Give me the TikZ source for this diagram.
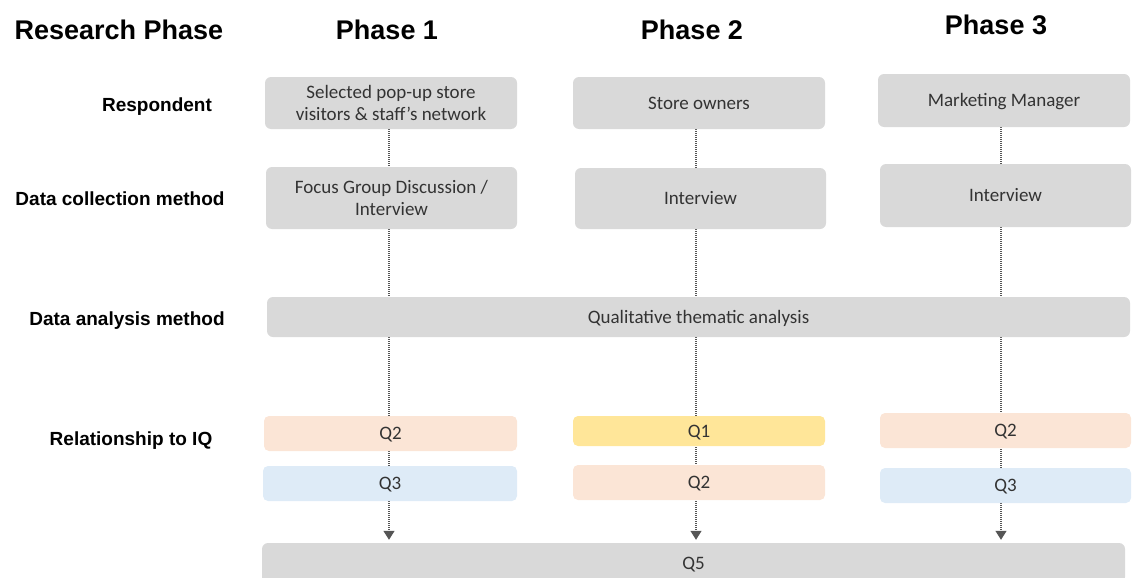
\documentclass[tikz,border=0pt]{standalone}
\usepackage{fontspec}
\setmainfont{Liberation Sans}
\newfontfamily\boxfont{Carlito}
\usetikzlibrary{arrows.meta,backgrounds}
\definecolor{boxgray}{HTML}{D9D9D9}
\definecolor{qorange}{HTML}{FBE5D6}
\definecolor{qblue}{HTML}{DEEBF7}
\definecolor{qyellow}{HTML}{FFE699}
\definecolor{boxtext}{HTML}{333333}
\definecolor{linegray}{HTML}{555555}
\tikzset{
  hdr/.style={font=\fontsize{27}{32}\selectfont\bfseries, anchor=base, inner sep=0pt, text=black},
  rowlabel/.style={font=\fontsize{19}{22}\selectfont\bfseries, anchor=base, inner sep=0pt, text=black},
  box/.style={rectangle, rounded corners=6pt, fill=boxgray, text=boxtext,
    font=\boxfont\fontsize{19}{22}\selectfont, align=center, inner sep=0pt,
    text height=12.2pt, text depth=0pt},
  twoline/.style={text height=34.2pt, text depth=0pt},
  qbox/.style={box, rounded corners=5pt},
  conn/.style={draw=linegray, line width=1.3pt, dash pattern=on 1.2pt off 0.8pt,
    -{Triangle[width=11pt,length=9pt]}, shorten >=3pt}
}
\begin{document}
\begin{tikzpicture}[x=1pt,y=-1pt]
\useasboundingbox (0,0) rectangle (1132,578);
\clip (0,0) rectangle (1132,578);

% headers
\node[hdr] (hrp) at (119,40) {Research Phase};
\node[hdr] (hp1) at (387,40) {Phase 1};
\node[hdr] (hp2) at (692,40) {Phase 2};
\node[hdr] (hp3) at (996,35) {Phase 3};

% row labels
\node[rowlabel] (lresp) at (157,111) {Respondent};
\node[rowlabel] (lcoll) at (120,205) {Data collection method};
\node[rowlabel] (lanal) at (127,325) {Data analysis method};
\node[rowlabel] (lrel)  at (131,445) {Relationship to IQ};

% phase 1
\node[box, twoline, minimum width=252pt, minimum height=52pt] (resp1) at (391,103) {Selected pop-up store\\visitors \& staff’s network};
\node[box, twoline, minimum width=251pt, minimum height=62pt] (coll1) at (391.5,198) {Focus Group Discussion /\\Interview};
% phase 2
\node[box, minimum width=252pt, minimum height=52pt] (resp2) at (699,103) {Store owners};
\node[box, minimum width=251pt, minimum height=61pt] (coll2) at (700.5,198.5) {Interview};
% phase 3
\node[box, minimum width=252pt, minimum height=53pt] (resp3) at (1004,100.5) {Marketing Manager};
\node[box, minimum width=251pt, minimum height=63pt] (coll3) at (1005.5,195.5) {Interview};

% analysis
\node[box, minimum width=863pt, minimum height=40pt] (qual) at (698.5,317) {Qualitative thematic analysis};

% IQ boxes
\node[qbox, fill=qorange, minimum width=253pt, minimum height=35pt] (q2a) at (390.5,433.5) {Q2};
\node[qbox, fill=qblue,   minimum width=254pt, minimum height=35pt] (q3a) at (390,483.5) {Q3};
\node[qbox, fill=qyellow, minimum width=252pt, minimum height=30pt] (q1b) at (699,431) {Q1};
\node[qbox, fill=qorange, minimum width=252pt, minimum height=35pt] (q2b) at (699,482.5) {Q2};
\node[qbox, fill=qorange, minimum width=251pt, minimum height=35pt] (q2c) at (1005.5,430.5) {Q2};
\node[qbox, fill=qblue,   minimum width=251pt, minimum height=35pt] (q3c) at (1005.5,485.5) {Q3};

% Q5
\node[box, minimum width=863pt, minimum height=40pt] (q5) at (693.5,563) {Q5};

% connectors
\begin{pgfonlayer}{background}
\draw[conn] ([xshift=-2pt]resp1.south) -- ([xshift=-2pt]resp1.south |- q5.north);
\draw[conn] ([xshift=-3pt]resp2.south) -- ([xshift=-3pt]resp2.south |- q5.north);
\draw[conn] ([xshift=-3pt]resp3.south) -- ([xshift=-3pt]resp3.south |- q5.north);
\end{pgfonlayer}
\end{tikzpicture}
\end{document}
